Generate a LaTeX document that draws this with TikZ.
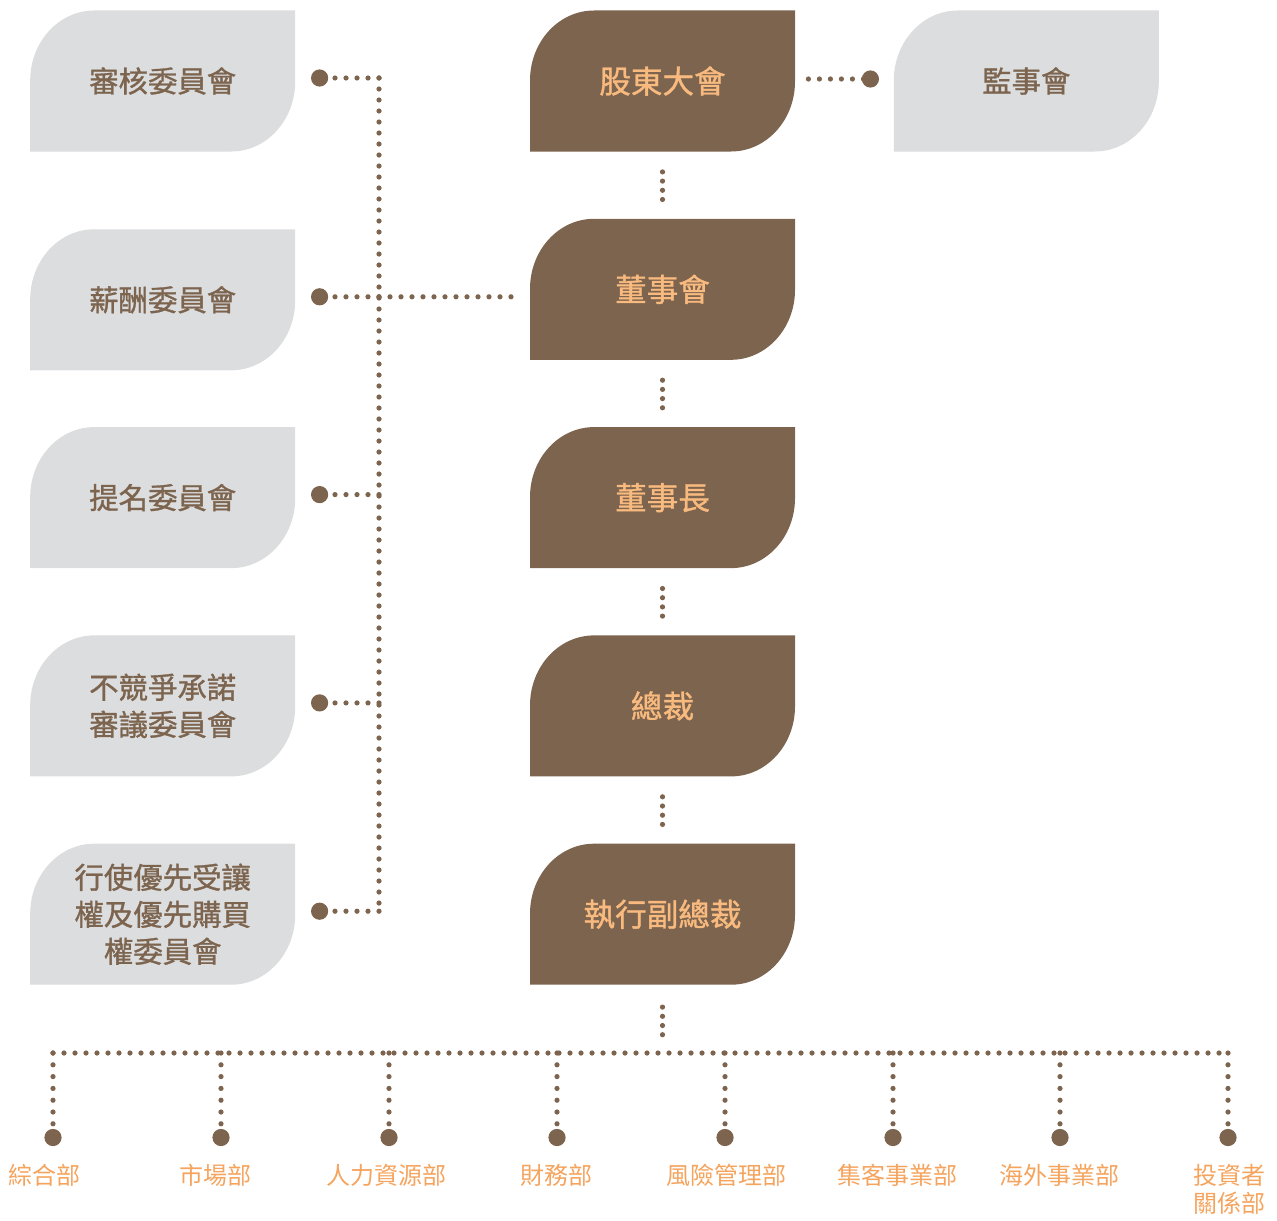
\documentclass[tikz,border=0pt]{standalone}
\usepackage{fontspec}
\newfontfamily\cjk{Noto Sans CJK TC}
\newfontfamily\cjkheavy[FakeBold=1.1]{Noto Sans CJK TC}
\usetikzlibrary{positioning}
\definecolor{oakbrown}{HTML}{7C644E}
\definecolor{mistgrey}{HTML}{DCDDDE}
\definecolor{peach}{HTML}{F8BA7E}
\definecolor{apricot}{HTML}{F5A45E}
\begin{document}
\begin{tikzpicture}[x=.5pt,y=-.5pt,
    leaf/.style={minimum width=132.5pt,minimum height=70.5pt,inner sep=0pt,align=center,fill=white,
      path picture={\fill[#1] (path picture bounding box.south west)
        -- ([yshift=-35pt]path picture bounding box.north west)
        arc[start angle=180,end angle=90,x radius=32pt,y radius=35pt]
        -- (path picture bounding box.north east)
        -- ([yshift=35pt]path picture bounding box.south east)
        arc[start angle=0,end angle=-90,x radius=32pt,y radius=35pt]
        -- cycle;}},
    seat/.style={leaf=mistgrey,text=oakbrown,font=\cjkheavy\fontsize{14.7}{18.5}\selectfont},
    chair/.style={leaf=oakbrown,text=peach,font=\cjkheavy\fontsize{15.8}{19}\selectfont},
    dept/.style={anchor=north,inner sep=0pt,align=center,text=apricot,font=\cjk\fontsize{12}{14}\selectfont},
    dotline/.style={oakbrown,line width=2.6pt,line cap=round,dash pattern=on 0pt off 5.5pt},
    shortlink/.style={dotline,dash pattern=on 0pt off 4.6pt},
    branch/.style={dotline,dash pattern=on 0pt off 5.9pt}]
    \useasboundingbox (0,0) rectangle (1277,1220);
    \node[chair] (agm) at (662.5,81) {股東大會};
    \node[chair,below=33.25pt of agm] (board) {董事會};
    \node[chair,below=33.25pt of board] (chairman) {董事長};
    \node[chair,below=33.25pt of chairman] (ceo) {總裁};
    \node[chair,below=33.25pt of ceo] (evp) {執行副總裁};
    \node[seat,right=49pt of agm] (supervisors) {監事會};
    \node[seat,left=117pt of agm] (audit) {審核委員會};
    \node[seat,left=117pt of board,yshift=-5.25pt] (pay) {薪酬委員會};
    \node[seat,left=117pt of chairman] (nominate) {提名委員會};
    \node[seat,left=117pt of ceo] (noncompete) {不競爭承諾\\審議委員會};
    \node[seat,left=117pt of evp] (preempt) {行使優先受讓\\權及優先購買\\權委員會};
    \coordinate (spine) at (379,0);
    \coordinate (s1) at ([xshift=-11.5pt,yshift=1pt]supervisors.west);
    \coordinate (hub) at ([yshift=-35.5pt]evp.south);
    \foreach \c/\n in {a1/audit,a2/pay,a3/nominate,a4/noncompete,a5/preempt}
        \coordinate (\c) at ([xshift=12pt,yshift=1.5pt]\n.east);
    \draw[dotline] (spine |- a1) -- (spine |- a5);
    \foreach \c in {a1,a2,a3,a4,a5}
        \draw[dotline] (spine |- \c) -- (\c);
    \draw[dotline] (spine |- a2) -- ([xshift=-6.5pt]board.west |- a2);
    \draw[dotline] ([xshift=6.5pt]agm.east |- s1) -- (s1);
    \draw[shortlink] ([yshift=-10pt]agm.south) -- ([yshift=9pt]board.north);
    \draw[shortlink] ([yshift=-10pt]board.south) -- ([yshift=9pt]chairman.north);
    \draw[shortlink] ([yshift=-10pt]chairman.south) -- ([yshift=9pt]ceo.north);
    \draw[shortlink] ([yshift=-10pt]ceo.south) -- ([yshift=9pt]evp.north);
    \draw[shortlink] ([yshift=-11pt]evp.south) -- ([yshift=10.5pt]hub);
    \foreach \i/\x in {1/53,2/221,3/389,4/557,5/725,6/893,7/1060,8/1228} {
        \coordinate (q\i) at (\x,1053);
        \coordinate (p\i) at (\x,1137.5);
    }
    \draw[dotline] (q1) -- (q8);
    \foreach \i in {1,...,8}
        \draw[branch] (q\i) -- (p\i);
    \foreach \c in {a1,a2,a3,a4,a5,s1,p1,p2,p3,p4,p5,p6,p7,p8}
        \fill[oakbrown] (\c) circle (4.3pt);
    \node[dept] (general) at (44.5,1164) {綜合部};
    \node[dept] (market) at (215,1164) {市場部};
    \node[dept] (people) at (386,1164) {人力資源部};
    \node[dept] (finance) at (556,1164) {財務部};
    \node[dept] (risk) at (726,1164) {風險管理部};
    \node[dept] (clients) at (897,1164) {集客事業部};
    \node[dept] (overseas) at (1059,1164) {海外事業部};
    \node[dept] (investors) at (1229,1164) {投資者\\關係部};
\end{tikzpicture}
\end{document}
